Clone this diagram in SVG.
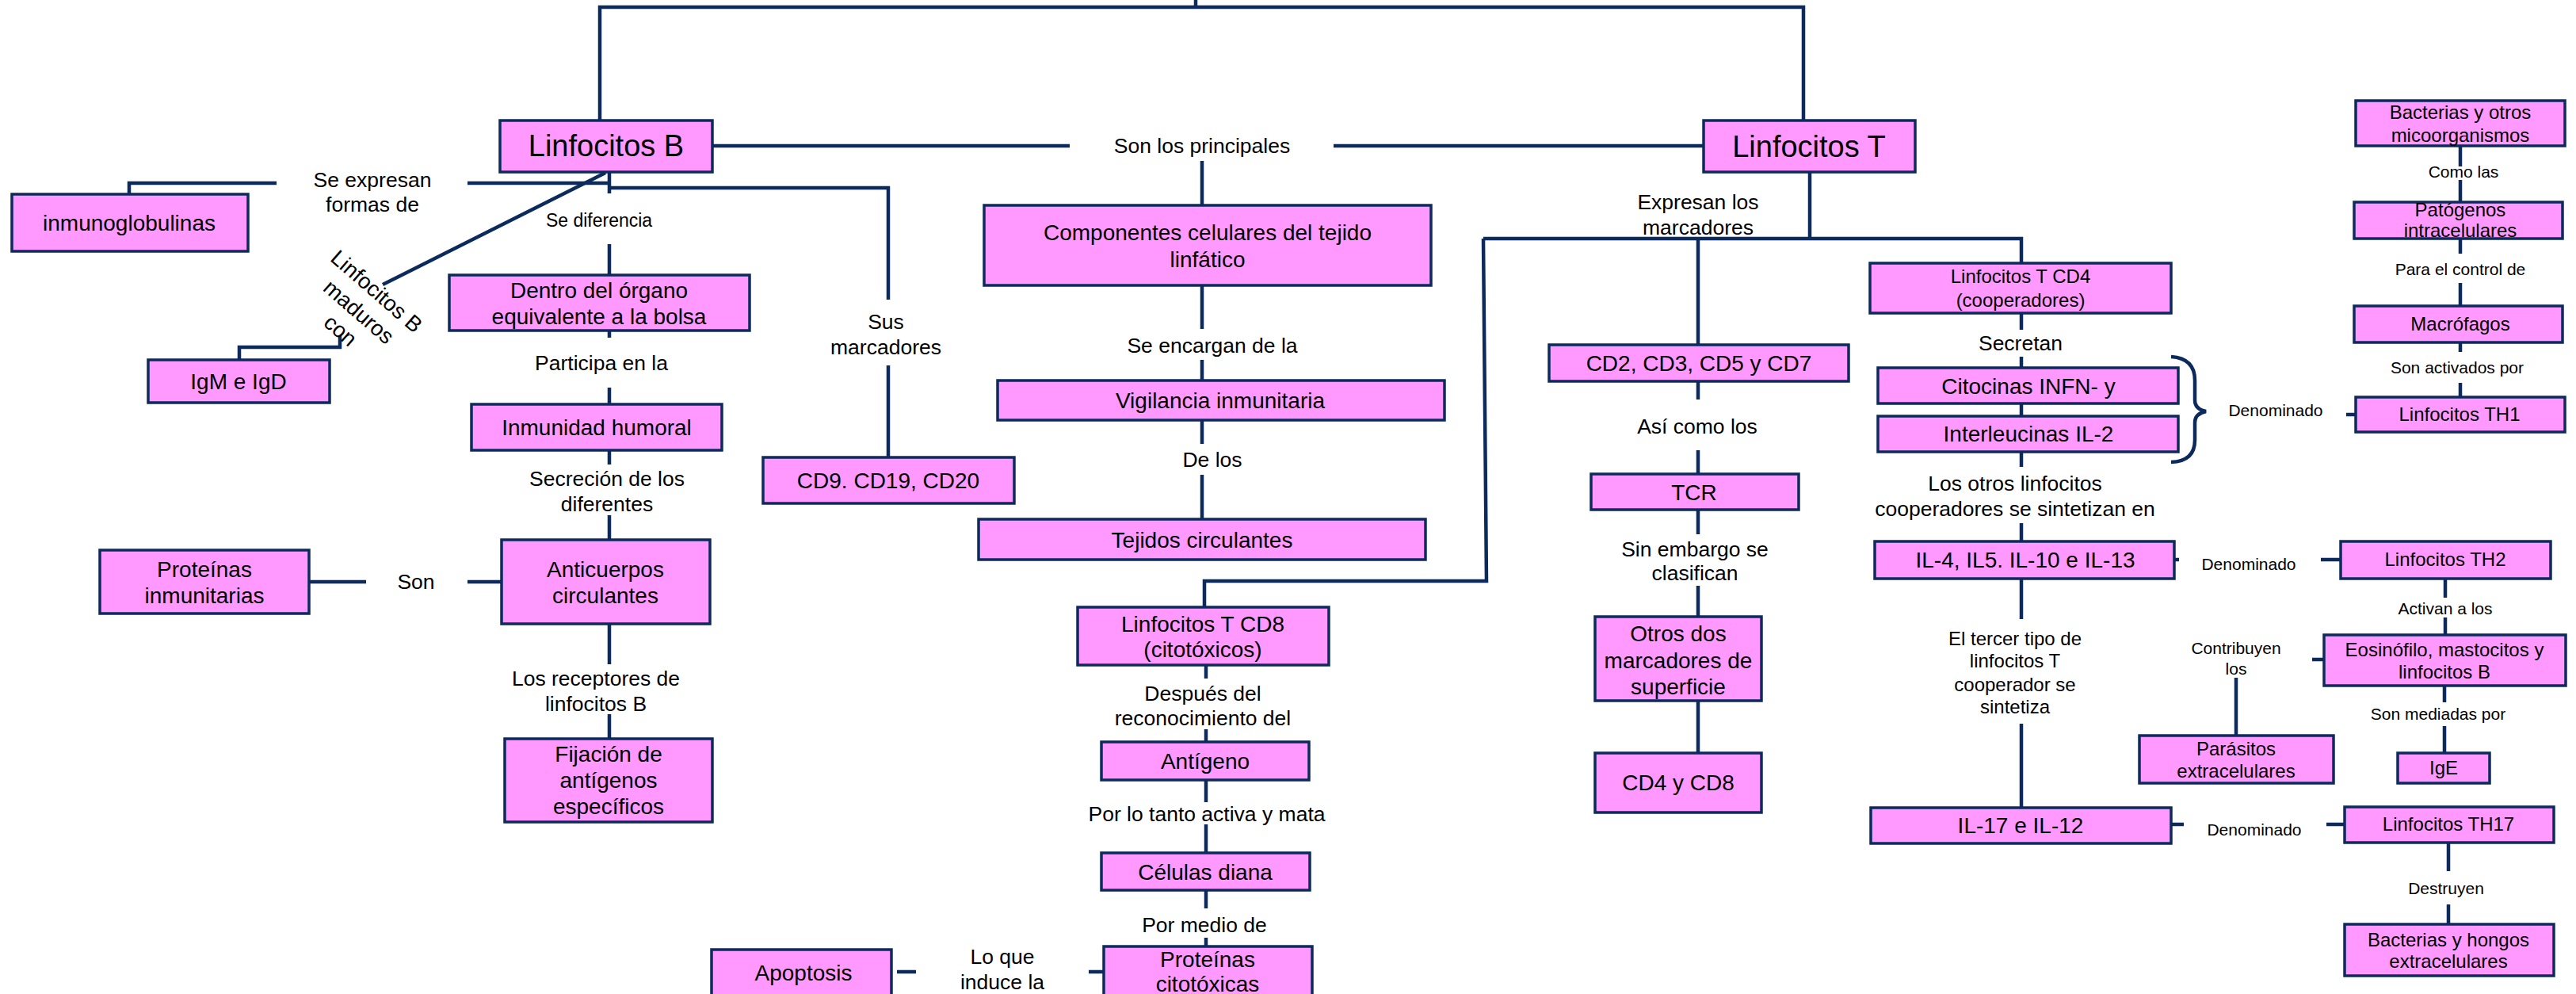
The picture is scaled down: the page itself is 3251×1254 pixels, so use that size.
<svg xmlns="http://www.w3.org/2000/svg" width="3251" height="1254" viewBox="0 0 3251 1254">
<style>
.b{fill:#ff99ff;stroke:#0d2a5c;stroke-width:3.5}
.c{fill:none;stroke:#0d2a5c;stroke-width:4.5}
text{font-family:"Liberation Sans",Arial,sans-serif;fill:#000;text-anchor:middle}
.t{font-size:28px}
.L{font-size:38px}
.s{font-size:24px}
.l{font-size:26.5px}
.m{font-size:21px}
</style>
<rect width="3251" height="1254" fill="#fff"/>
<g id="connectors" class="c">
<path d="M757,151 V9 H2276 V152"/>
<path d="M1509,0 V9"/>
<path d="M899,184 H1350 M1683,184 H2150"/>
<path d="M1517,203 V259 M1517,360 V415 M1517,454 V480 M1517,530 V560 M1517,599 V655"/>
<path d="M769,237 H1121 V378 M1121,461 V577"/>
<path d="M769,211 V244 M769,308 V347 M769,417 V426 M769,489 V510 M769,568 V586 M769,650 V681 M769,787 V838 M769,901 V932"/>
<path d="M590,231 H769 M349,231 H163 V245"/>
<path d="M764,218 L483,359"/>
<path d="M302,454 V438 H429 V423"/>
<path d="M390,734 H462 M590,734 H633"/>
<path d="M1872,301 L1876,733 H1520 V766"/>
<path d="M1522,839 V856 M1522,920 V936 M1522,984 V1012 M1522,1040 V1076 M1522,1123 V1146 M1522,1183 V1194"/>
<path d="M1132,1226 H1156 M1374,1226 H1393"/>
<path d="M2284,217 V301 M1872,301 H2551 V332"/>
<path d="M2143,301 V435 M2143,481 V504 M2143,568 V598 M2143,643 V674 M2143,739 V778 M2143,884 V950"/>
<path d="M2551,395 V416 M2551,450 V464 M2551,509 V525 M2551,570 V589 M2551,660 V683 M2551,730 V781 M2551,913 V1019"/>
<path d="M2740,450 Q2770,452 2770,480 V505 Q2770,516 2784,519 Q2770,522 2770,533 V555 Q2770,582 2740,583"/>
<path d="M2961,523 H2973"/>
<path d="M3105,184 V210 M3105,227 V255 M3105,298 V320 M3105,357 V386 M3105,432 V444 M3105,483 V501"/>
<path d="M2744,706 H2750 M2929,706 H2954"/>
<path d="M3086,730 V754 M3086,779 V801"/>
<path d="M2918,832 H2933"/>
<path d="M2822,855 V928"/>
<path d="M3085,865 V886 M3085,916 V950"/>
<path d="M2740,1040 H2756 M2936,1040 H2959"/>
<path d="M3090,1063 V1099 M3090,1141 V1166"/>
</g>
<g id="n-linfB"><rect class="b" x="631" y="152" width="268" height="65"/><text class="L" x="765" y="197">Linfocitos B</text></g>
<g id="n-inmuno"><rect class="b" x="15" y="245" width="298" height="72"/><text class="t" x="163" y="291">inmunoglobulinas</text></g>
<g id="n-dentro"><rect class="b" x="567" y="347" width="379" height="70"/><text class="t" x="756" y="376">Dentro del órgano</text><text class="t" x="756" y="409">equivalente a la bolsa</text></g>
<g id="n-igm"><rect class="b" x="187" y="454" width="229" height="54"/><text class="t" x="301" y="491">IgM e IgD</text></g>
<g id="n-inmhum"><rect class="b" x="595" y="510" width="316" height="58"/><text class="t" x="753" y="549">Inmunidad humoral</text></g>
<g id="n-protinm"><rect class="b" x="126" y="694" width="264" height="80"/><text class="t" x="258" y="728">Proteínas</text><text class="t" x="258" y="761">inmunitarias</text></g>
<g id="n-anticuerpos"><rect class="b" x="633" y="681" width="263" height="106"/><text class="t" x="764" y="728">Anticuerpos</text><text class="t" x="764" y="761">circulantes</text></g>
<g id="n-fijacion"><rect class="b" x="637" y="932" width="262" height="105"/><text class="t" x="768" y="961">Fijación de</text><text class="t" x="768" y="994">antígenos</text><text class="t" x="768" y="1027">específicos</text></g>
<g id="n-apoptosis"><rect class="b" x="898" y="1198" width="227" height="60"/><text class="t" x="1014" y="1237">Apoptosis</text></g>
<g id="n-cd9"><rect class="b" x="963" y="577" width="317" height="58"/><text class="t" x="1121" y="616">CD9. CD19, CD20</text></g>
<g id="n-componentes"><rect class="b" x="1242" y="259" width="564" height="101"/><text class="t" x="1524" y="303">Componentes celulares del tejido</text><text class="t" x="1524" y="337">linfático</text></g>
<g id="n-vigilancia"><rect class="b" x="1259" y="480" width="564" height="50"/><text class="t" x="1540" y="515">Vigilancia inmunitaria</text></g>
<g id="n-tejidos"><rect class="b" x="1235" y="655" width="564" height="51"/><text class="t" x="1517" y="691">Tejidos circulantes</text></g>
<g id="n-cd8"><rect class="b" x="1360" y="766" width="317" height="73"/><text class="t" x="1518" y="797">Linfocitos T CD8</text><text class="t" x="1518" y="829">(citotóxicos)</text></g>
<g id="n-antigeno"><rect class="b" x="1390" y="936" width="262" height="48"/><text class="t" x="1521" y="970">Antígeno</text></g>
<g id="n-celulas"><rect class="b" x="1390" y="1076" width="263" height="47"/><text class="t" x="1521" y="1110">Células diana</text></g>
<g id="n-protcito"><rect class="b" x="1393" y="1194" width="263" height="64"/><text class="t" x="1524" y="1220">Proteínas</text><text class="t" x="1524" y="1251">citotóxicas</text></g>
<g id="n-linfT"><rect class="b" x="2150" y="152" width="267" height="65"/><text class="L" x="2283" y="198">Linfocitos T</text></g>
<g id="n-cd2"><rect class="b" x="1955" y="435" width="378" height="46"/><text class="t" x="2144" y="468">CD2, CD3, CD5 y CD7</text></g>
<g id="n-tcr"><rect class="b" x="2008" y="598" width="262" height="45"/><text class="t" x="2138" y="631">TCR</text></g>
<g id="n-otros"><rect class="b" x="2013" y="778" width="210" height="106"/><text class="t" x="2118" y="809">Otros dos</text><text class="t" x="2118" y="843">marcadores de</text><text class="t" x="2118" y="876">superficie</text></g>
<g id="n-cd4cd8"><rect class="b" x="2013" y="950" width="210" height="75"/><text class="t" x="2118" y="997">CD4 y CD8</text></g>
<g id="n-cd4"><rect class="b" x="2360" y="332" width="380" height="63"/><text class="s" x="2550" y="357">Linfocitos T CD4</text><text class="s" x="2550" y="387">(cooperadores)</text></g>
<g id="n-citocinas"><rect class="b" x="2370" y="464" width="379" height="45"/><text class="t" x="2560" y="497">Citocinas INFN- y</text></g>
<g id="n-interleucinas"><rect class="b" x="2370" y="525" width="379" height="45"/><text class="t" x="2560" y="557">Interleucinas IL-2</text></g>
<g id="n-il4"><rect class="b" x="2366" y="683" width="378" height="47"/><text class="t" x="2556" y="716">IL-4, IL5. IL-10 e IL-13</text></g>
<g id="n-il17"><rect class="b" x="2361" y="1019" width="379" height="45"/><text class="t" x="2550" y="1051">IL-17 e IL-12</text></g>
<g id="n-bacterias"><rect class="b" x="2973" y="127" width="264" height="57"/><text class="s" x="3105" y="150">Bacterias y otros</text><text class="s" x="3105" y="179">micoorganismos</text></g>
<g id="n-patogenos"><rect class="b" x="2971" y="255" width="263" height="46"/><text class="s" x="3105" y="273">Patógenos</text><text class="s" x="3105" y="299">intracelulares</text></g>
<g id="n-macrofagos"><rect class="b" x="2971" y="386" width="263" height="46"/><text class="s" x="3105" y="417">Macrófagos</text></g>
<g id="n-th1"><rect class="b" x="2973" y="501" width="264" height="44"/><text class="s" x="3104" y="531">Linfocitos TH1</text></g>
<g id="n-th2"><rect class="b" x="2954" y="683" width="265" height="47"/><text class="s" x="3086" y="714">Linfocitos TH2</text></g>
<g id="n-eosinofilo"><rect class="b" x="2933" y="801" width="305" height="64"/><text class="s" x="3085" y="828">Eosinófilo, mastocitos y</text><text class="s" x="3085" y="856">linfocitos B</text></g>
<g id="n-parasitos"><rect class="b" x="2700" y="928" width="245" height="60"/><text class="s" x="2822" y="953">Parásitos</text><text class="s" x="2822" y="981">extracelulares</text></g>
<g id="n-ige"><rect class="b" x="3026" y="950" width="116" height="38"/><text class="s" x="3084" y="977">IgE</text></g>
<g id="n-th17"><rect class="b" x="2959" y="1018" width="264" height="45"/><text class="s" x="3090" y="1048">Linfocitos TH17</text></g>
<g id="n-hongos"><rect class="b" x="2959" y="1166" width="264" height="65"/><text class="s" x="3090" y="1194">Bacterias y hongos</text><text class="s" x="3090" y="1221">extracelulares</text></g>
<g id="labels">
<text class="l" x="470" y="236">Se expresan</text><text class="l" x="470" y="267">formas de</text>
<text x="756" y="286" style="font-size:23px">Se diferencia</text>
<text class="l" x="759" y="467">Participa en la</text>
<text class="l" x="766" y="613">Secreción de los</text><text class="l" x="766" y="645">diferentes</text>
<text class="l" x="525" y="743">Son</text>
<text class="l" x="752" y="865">Los receptores de</text><text class="l" x="752" y="897">linfocitos B</text>
<text class="l" x="1118" y="415">Sus</text><text class="l" x="1118" y="447">marcadores</text>
<text class="l" x="1517" y="193">Son los principales</text>
<text class="l" x="1530" y="445">Se encargan de la</text>
<text class="l" x="1530" y="589">De los</text>
<text class="l" x="1518" y="884">Después del</text><text class="l" x="1518" y="915">reconocimiento del</text>
<text class="l" x="1523" y="1036">Por lo tanto activa y mata</text>
<text class="l" x="1520" y="1176">Por medio de</text>
<text class="l" x="1265" y="1216">Lo que</text><text class="l" x="1265" y="1248">induce la</text>
<text class="l" x="2143" y="264">Expresan los</text><text class="l" x="2143" y="296">marcadores</text>
<text class="l" x="2142" y="547">Así como los</text>
<text class="l" x="2139" y="702">Sin embargo se</text><text class="l" x="2139" y="732">clasifican</text>
<text class="l" x="2550" y="442">Secretan</text>
<text class="l" x="2543" y="619">Los otros linfocitos</text><text class="l" x="2543" y="651">cooperadores se sintetizan en</text>
<text class="s" x="2543" y="814">El tercer tipo de</text><text class="s" x="2543" y="842">linfocitos T</text><text class="s" x="2543" y="872">cooperador se</text><text class="s" x="2543" y="900">sintetiza</text>
<text class="m" x="2872" y="525">Denominado</text>
<text class="m" x="2838" y="719">Denominado</text>
<text class="m" x="2845" y="1054">Denominado</text>
<text class="m" x="3109" y="224">Como las</text>
<text class="m" x="3105" y="347">Para el control de</text>
<text class="m" x="3101" y="471">Son activados por</text>
<text class="m" x="3086" y="775">Activan a los</text>
<text class="m" x="2822" y="825">Contribuyen</text><text class="m" x="2822" y="851">los</text>
<text class="m" x="3077" y="908">Son mediadas por</text>
<text class="m" x="3087" y="1128">Destruyen</text>
<text transform="translate(474,366) rotate(41)" style="font-size:27.5px"><tspan x="2" y="9.6">Linfocitos B</tspan><tspan x="2" y="44">maduros</tspan><tspan x="0" y="77">con</tspan></text>
</g>
</svg>
